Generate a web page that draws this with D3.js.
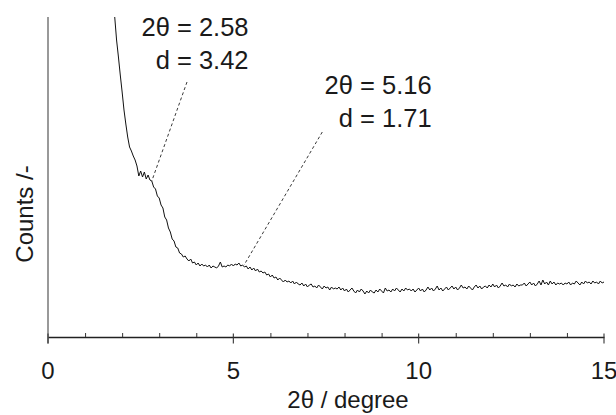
<!DOCTYPE html>
<html>
<head>
<meta charset="utf-8">
<script src="https://cdn.jsdelivr.net/npm/d3@7"></script>
<style>
    body { margin: 0; background: #fff; }
    svg text { font-family: "Liberation Sans", Arial, Helvetica, sans-serif; fill: #1a1a1a; }
</style>
</head>
<body>
<div id="chart"></div>
<script>
// XRD pattern, sampled every 0.05 degree starting at 2θ = 1.80
const twoThetaStart = 1.8;
const twoThetaStep = 0.05;
const counts = [
    320, 297, 280, 262, 245, 227, 213, 200, 190, 186, 181, 177, 171, 161, 166, 160, 165, 158, 162, 157,
    156, 150, 148, 141, 139, 132, 129, 120, 117, 109, 105, 98, 96, 90, 89, 84, 83, 80, 81, 78,
    76, 78, 74, 75, 72, 74, 71, 73, 71, 72, 70, 72, 69, 71, 70, 69, 71, 75, 70, 71,
    70, 72, 71, 73, 71, 73, 72, 74, 71, 72, 70, 71, 68, 70, 67, 69, 66, 68, 65, 66,
    64, 65, 62, 63, 60, 62, 59, 60, 57, 59, 57, 55, 57, 55, 56, 54, 56, 53, 55, 53,
    52, 54, 51, 53, 50, 52, 53, 50, 51, 49, 52, 50, 48, 51, 49, 50, 47, 50, 48, 49,
    48, 50, 47, 49, 46, 48, 45, 47, 49, 46, 44, 47, 45, 48, 46, 43, 46, 44, 47, 45,
    44, 47, 45, 48, 46, 44, 49, 46, 47, 45, 48, 46, 49, 47, 45, 48, 46, 49, 47, 48,
    46, 48, 45, 47, 49, 46, 48, 45, 47, 50, 47, 49, 46, 48, 51, 47, 49, 46, 48, 50,
    47, 49, 51, 48, 50, 47, 49, 52, 49, 50, 48, 51, 49, 47, 50, 52, 49, 51, 48, 50,
    51, 49, 52, 50, 53, 50, 52, 49, 51, 54, 51, 52, 50, 53, 51, 52, 50, 53, 51, 52,
    52, 54, 51, 53, 55, 52, 54, 51, 53, 56, 52, 57, 53, 55, 52, 56, 53, 55, 52, 54,
    53, 54, 52, 54, 53, 55, 52, 54, 53, 56, 54, 52, 55, 53, 56, 54, 55, 53, 56, 54,
    55, 53, 56, 54, 55
];

const majorTicks = [0, 5, 10, 15];
const minorTicks = [1, 2, 3, 4, 6, 7, 8, 9, 11, 12, 13, 14];

// annotations: peak position, where the leader starts, text lines
const peakLabels = [
    { lines: ["2θ = 2.58", "d = 3.42"], at: [2.80, 156], from: [3.75, 255], text: [5.41, 301] },
    { lines: ["2θ = 5.16", "d = 1.71"], at: [5.29, 72], from: [7.40, 205], text: [10.35, 243] }
];

const width = 616;
const height = 415;
const margin = { top: 17, right: 12, bottom: 78, left: 48 };

const svg = d3.select("#chart").append("svg")
    .attr("width", width)
    .attr("height", height);

const x = d3.scaleLinear()
    .domain([0, 15])
    .range([margin.left, width - margin.right]);

const y = d3.scaleLinear()
    .domain([0, 320])
    .range([height - margin.bottom, margin.top]);

const points = counts.map((c, i) => [twoThetaStart + i * twoThetaStep, c]);

svg.append("defs").append("clipPath")
    .attr("id", "plot-clip")
    .append("rect")
    .attr("x", margin.left)
    .attr("y", margin.top)
    .attr("width", width - margin.left - margin.right)
    .attr("height", height - margin.top - margin.bottom);

// y axis line, no ticks
svg.append("line")
    .attr("x1", x(0)).attr("x2", x(0))
    .attr("y1", y(320)).attr("y2", y(0) + 6.5)
    .attr("stroke", "#6e6e6e")
    .attr("stroke-width", 1.4);

// x axis: minor ticks point up, major ticks cross the line
const xAxis = svg.append("g")
    .attr("transform", `translate(0,${y(0)})`)
    .call(d3.axisTop(x).tickValues(minorTicks).tickSize(4).tickSizeOuter(0).tickFormat(""));
xAxis.select(".domain").attr("stroke", "#222").attr("stroke-width", 1.3);
xAxis.selectAll(".tick line").attr("stroke", "#333").attr("stroke-width", 1);

svg.append("g").selectAll("line")
    .data(majorTicks)
    .join("line")
    .attr("x1", d => x(d)).attr("x2", d => x(d))
    .attr("y1", y(0) - 3.5).attr("y2", y(0) + 6.5)
    .attr("stroke", "#333")
    .attr("stroke-width", 1.1);

svg.append("g").selectAll("text")
    .data(majorTicks)
    .join("text")
    .attr("x", d => x(d))
    .attr("y", y(0) + 42)
    .attr("text-anchor", "middle")
    .attr("font-size", 24)
    .text(d => d);

svg.append("text")
    .attr("x", 348)
    .attr("y", 408)
    .attr("text-anchor", "middle")
    .attr("font-size", 24)
    .text("2θ / degree");

svg.append("text")
    .attr("transform", "translate(33,214) rotate(-90)")
    .attr("text-anchor", "middle")
    .attr("font-size", 24)
    .text("Counts /-");

// the pattern
const line = d3.line()
    .x(d => x(d[0]))
    .y(d => y(d[1]));

svg.append("path")
    .datum(points)
    .attr("clip-path", "url(#plot-clip)")
    .attr("d", line)
    .attr("fill", "none")
    .attr("stroke", "#111")
    .attr("stroke-width", 1)
    .attr("stroke-linejoin", "round");

// peak annotations
const notes = svg.append("g");
peakLabels.forEach(p => {
    notes.append("line")
        .attr("x1", x(p.from[0])).attr("y1", y(p.from[1]))
        .attr("x2", x(p.at[0])).attr("y2", y(p.at[1]))
        .attr("stroke", "#222")
        .attr("stroke-width", 0.9)
        .attr("stroke-dasharray", "3,2.5");

    notes.selectAll(null)
        .data(p.lines)
        .join("text")
        .attr("x", x(p.text[0]))
        .attr("y", (d, i) => y(p.text[1]) + i * 33.3)
        .attr("text-anchor", "end")
        .attr("font-size", 25.5)
        .text(d => d);
});
</script>
</body>
</html>
